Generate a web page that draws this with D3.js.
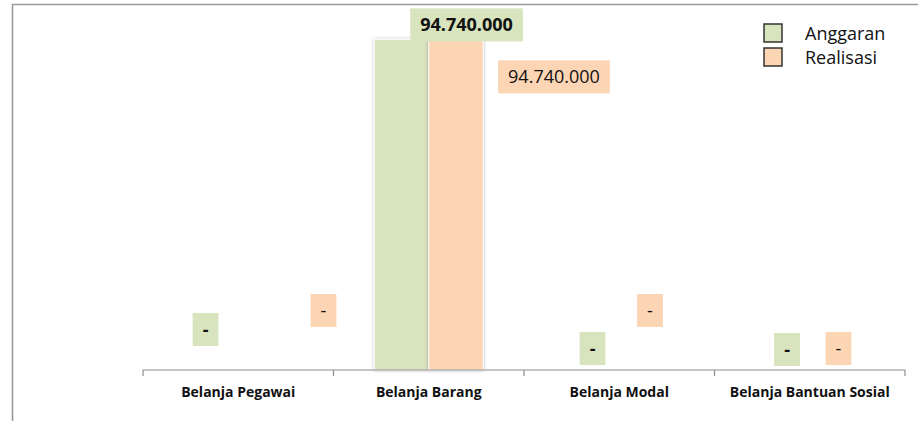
<!DOCTYPE html>
<html>
<head>
<meta charset="utf-8">
<script src="https://cdn.jsdelivr.net/npm/d3@7"></script>
<style>
  body { margin: 0; background: #fff; }
  svg text { font-family: 'Open Sans', sans-serif; fill: #111; }
</style>
</head>
<body>
<div id="chart"></div>
<script>
  let categories = ['Belanja Pegawai', 'Belanja Barang', 'Belanja Modal', 'Belanja Bantuan Sosial']
  let series = ['Anggaran', 'Realisasi']
  let anggaran = [0, 94740000, 0, 0]
  let realisasi = [0, 94740000, 0, 0]

  // where Excel left each data label, relative to the bar top centre
  let labelNudge = {
    Anggaran: [[-5.5, -40.5], [65, -14.5], [0.5, -21.5], [4.5, -20.5]],
    Realisasi: [[58, -59.5], [98, 37.5], [3.5, -59.5], [1.5, -21.5]]
  }

  let colors = { Anggaran: '#d7e4bd', Realisasi: '#fcd5b5' }

  let width = 918,
    height = 421

  let svg = d3.select('#chart')
    .append('svg')
    .attr('width', width)
    .attr('height', height)

  let defs = svg.append('defs')
  defs.append('filter')
    .attr('id', 'shadow')
    .attr('x', '-20%').attr('y', '-20%').attr('width', '140%').attr('height', '140%')
    .append('feDropShadow')
    .attr('dx', 0).attr('dy', 0)
    .attr('stdDeviation', 1.4)
    .attr('flood-color', '#000')
    .attr('flood-opacity', 0.35)

  // frame of the chart area (left and top edges visible)
  svg.append('path')
    .attr('d', 'M12.5,421V4.5H918')
    .attr('fill', 'none')
    .attr('stroke', '#9a9a9a')
    .attr('stroke-width', 1.6)

  let rows = categories.map((c, i) => ({
    category: c,
    values: [
      { key: 'Anggaran', value: anggaran[i], i: i },
      { key: 'Realisasi', value: realisasi[i], i: i }
    ]
  }))

  let x = d3.scaleBand().domain(categories).range([143, 905])
  let xSub = d3.scaleBand().domain(series).range([0, x.bandwidth()]).paddingOuter(0.75)
  let y = d3.scaleLinear().domain([0, 100000000]).range([370, 21])

  let fmt = d3.formatLocale({ decimal: ',', thousands: '.', grouping: [3], currency: ['', ''] }).format(',')

  let groups = svg.selectAll('.cat')
    .data(rows)
    .enter()
    .append('g')
    .attr('class', 'cat')
    .attr('transform', d => `translate(${x(d.category)},0)`)

  groups.selectAll('rect.bar')
    .data(d => d.values.filter(v => v.value > 0))
    .enter()
    .append('rect')
    .attr('class', 'bar')
    .attr('x', d => xSub(d.key))
    .attr('width', xSub.bandwidth())
    .attr('y', d => y(d.value))
    .attr('height', d => y(0) - y(d.value))
    .attr('fill', d => colors[d.key])
    .attr('stroke', '#fff')
    .attr('stroke-width', 1)
    .attr('filter', 'url(#shadow)')

  // axis line with ticks on the category boundaries
  let axisG = svg.append('g')
  axisG.append('line')
    .attr('x1', x.range()[0]).attr('x2', x.range()[1])
    .attr('y1', y(0)).attr('y2', y(0))
    .attr('stroke', '#8c8c8c').attr('stroke-width', 1.2)
  axisG.selectAll('.bound')
    .data(categories.map(c => x(c)).concat([x.range()[1]]))
    .enter()
    .append('line')
    .attr('x1', d => d).attr('x2', d => d)
    .attr('y1', y(0)).attr('y2', y(0) + 6)
    .attr('stroke', '#8c8c8c').attr('stroke-width', 1.2)

  let xAxis = svg.append('g')
    .attr('transform', `translate(0,${y(0)})`)
    .call(d3.axisBottom(x).tickSize(0).tickPadding(17))
  xAxis.select('.domain').remove()
  xAxis.selectAll('text')
    .style('font-family', "'Open Sans', sans-serif")
    .style('font-size', '14px')
    .style('font-weight', 'bold')
    .attr('fill', '#111')

  // data labels
  let labels = groups.selectAll('g.lbl')
    .data(d => d.values)
    .enter()
    .append('g')
    .attr('class', 'lbl')
    .attr('transform', d => {
      let n = labelNudge[d.key][d.i]
      let cx = xSub(d.key) + xSub.bandwidth() / 2 + n[0]
      let cy = y(d.value) + n[1]
      return `translate(${cx},${cy})`
    })

  labels.each(function (d) {
    let g = d3.select(this)
    let box = g.append('rect').attr('fill', colors[d.key])
    let t = g.append('text')
      .attr('text-anchor', 'middle')
      .attr('dy', '0.36em')
      .style('font-size', '18px')
      .style('font-weight', d.key === 'Anggaran' ? 'bold' : 'normal')
      .text(d.value === 0 ? '-' : fmt(d.value))
    let w = t.node().getComputedTextLength() + 20
    box.attr('x', -w / 2).attr('y', -16.5).attr('width', w).attr('height', 33)
  })

  // legend
  let legend = svg.append('g')
    .selectAll('g')
    .data(series)
    .enter()
    .append('g')
    .attr('transform', (d, i) => `translate(764,${24 + i * 24})`)

  legend.append('rect')
    .attr('width', 18)
    .attr('height', 18)
    .attr('fill', d => colors[d])
    .attr('stroke', '#333')
    .attr('stroke-width', 1.5)

  legend.append('text')
    .attr('x', 41)
    .attr('y', 16)
    .style('font-size', '18px')
    .text(d => d)
</script>
</body>
</html>
